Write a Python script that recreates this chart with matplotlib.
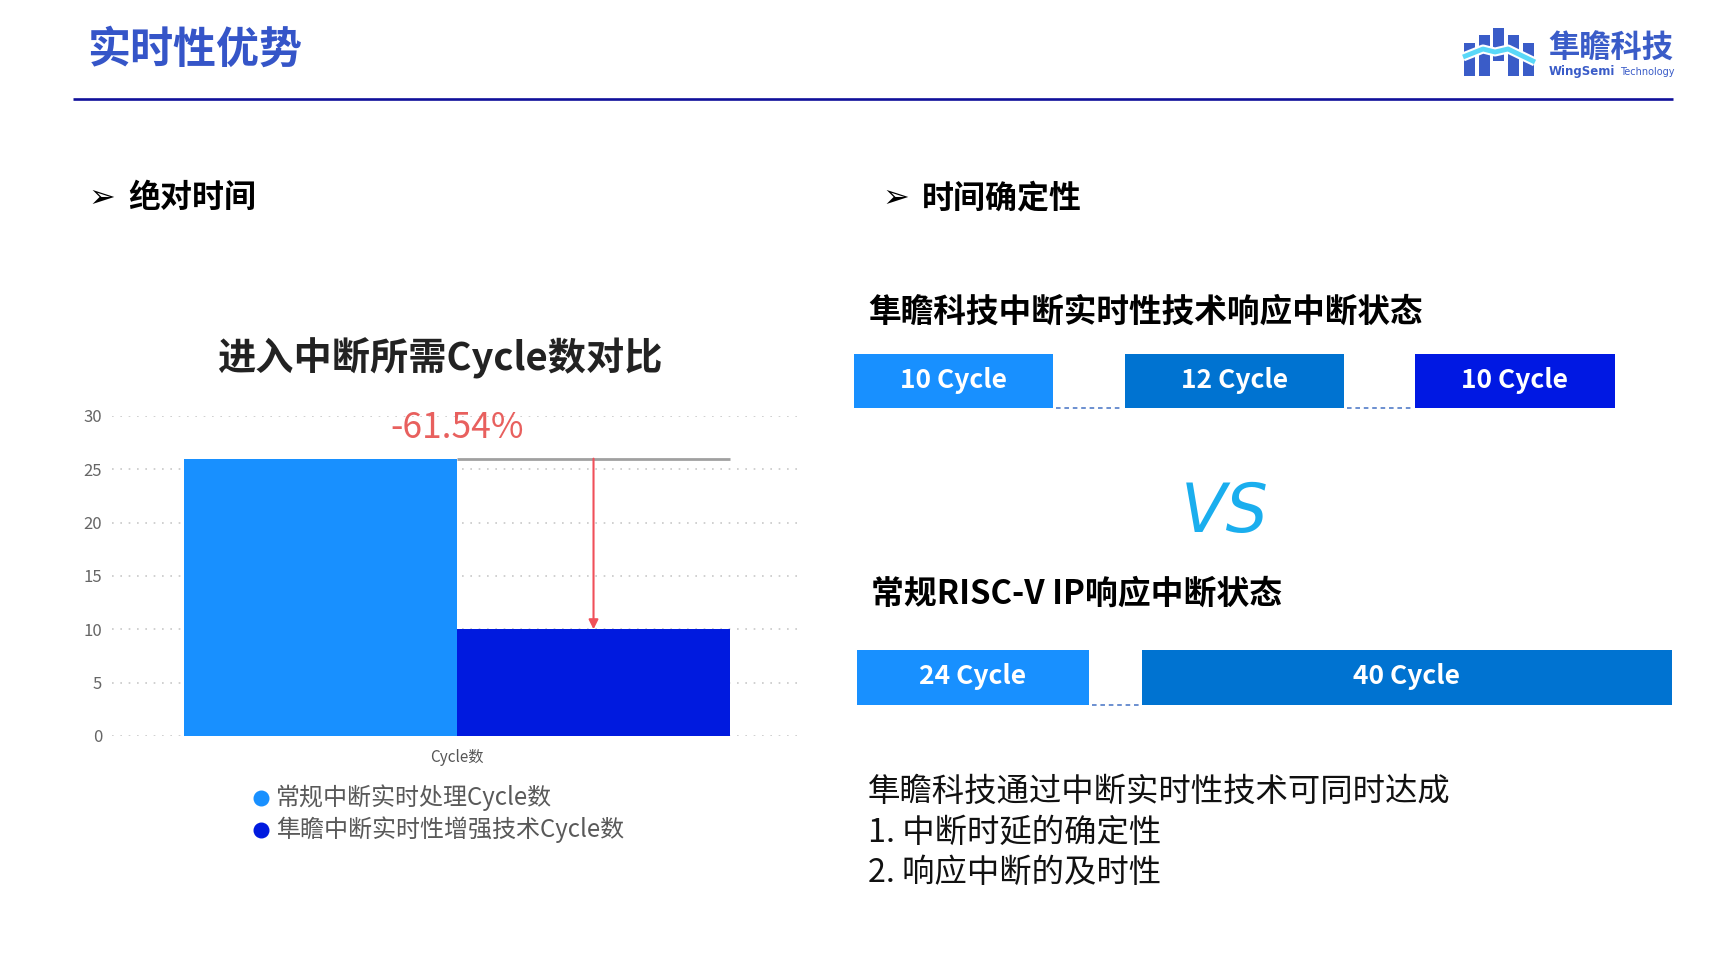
"""
plot.py

Recreates the "实时性优势" slide: a bar chart of interrupt cycles on the left
and cycle-state boxes on the right.
"""

import matplotlib
matplotlib.use("Agg")
import matplotlib.pyplot as plt
from matplotlib.patches import Rectangle

# ---- data ----
series_names = ["常规中断实时处理Cycle数", "隼瞻中断实时性增强技术Cycle数"]
series_values = [26, 10]
category = "Cycle数"
y_ticks = [0, 5, 10, 15, 20, 25, 30]

jz_cycles = [10, 12, 10]
riscv_cycles = [24, 40]

summary_lines = ["隼瞻科技通过中断实时性技术可同时达成",
                 "1. 中断时延的确定性",
                 "2. 响应中断的及时性"]

# ---- styling ----
W, H = 1731, 965
CJK = "Noto Sans CJK SC"
plt.rcParams["font.family"] = [CJK, "DejaVu Sans"]

bar_colors = ["#1890ff", "#001adf"]
jz_colors = ["#1890ff", "#0073d1", "#0018e3"]
riscv_colors = ["#1890ff", "#0073d1"]

# box layout in pixels (left, right) per row
jz_boxes = [(854, 1053), (1125, 1344), (1415, 1615)]
jz_row = (354, 408)
riscv_boxes = [(857, 1089), (1142, 1672)]
riscv_row = (650, 705)

fig = plt.figure(figsize=(W / 100, H / 100), dpi=100)
fig.patch.set_facecolor("white")

# overlay axes in pixel coordinates for the slide decorations
ov = fig.add_axes([0, 0, 1, 1])
ov.set_xlim(0, W)
ov.set_ylim(H, 0)
ov.axis("off")

# header
ov.text(87, 50, "实时性优势", fontsize=31, fontweight="bold", color="#3555c8",
        ha="left", va="center")
ov.plot([73, 1673], [99, 99], color="#10109a", lw=1.9, solid_capstyle="butt")

# logo
logo_blue = "#3a5cc8"
for x0, x1, y0, y1 in [(1464, 1475, 43, 76), (1479, 1490, 35, 76),
                       (1493, 1504, 28, 61), (1508, 1519, 35, 76),
                       (1523, 1534, 43, 76)]:
    ov.add_patch(Rectangle((x0, y0), x1 - x0, y1 - y0, color=logo_blue, lw=0))
wave_x = [1463, 1483, 1495, 1508, 1535]
wave_y = [57, 49, 52, 49, 62]
ov.plot(wave_x, wave_y, color="white", lw=6.5, solid_capstyle="butt")
ov.plot(wave_x, wave_y, color="#5ad8f8", lw=3.5, solid_capstyle="butt")
ov.text(1548, 49, "隼瞻科技", fontsize=22.5, fontweight="bold", color=logo_blue,
        ha="left", va="center")
ov.text(1549, 72, "WingSemi", fontsize=8.5, fontweight="bold", color=logo_blue,
        ha="left", va="center", family="DejaVu Sans")
ov.text(1620, 72, "Technology", fontsize=7, color=logo_blue,
        ha="left", va="center", family="DejaVu Sans")

# section headings
for ax_x, tx_x, label in [(88, 128, "绝对时间"), (882, 922, "时间确定性")]:
    ov.text(ax_x, 199, "➢", fontsize=23, color="black", ha="left", va="center",
            family="DejaVu Sans")
    ov.text(tx_x, 198, label, fontsize=23, fontweight="bold", color="black",
            ha="left", va="center")

# ---- bar chart ----
ov.text(440, 358, "进入中断所需Cycle数对比", fontsize=27.5, fontweight="bold",
        color="#222222", ha="center", va="center")

ax = fig.add_axes([112 / W, 1 - 736 / H, 686 / W, 320 / H])
ax.patch.set_alpha(0)
bar_w = 0.4
offsets = [-bar_w / 2, bar_w / 2]
for off, val, col in zip(offsets, series_values, bar_colors):
    ax.bar(off, val, width=bar_w, color=col, zorder=2)

ax.set_xlim(-0.5055, 0.4996)
ax.set_ylim(y_ticks[0], y_ticks[-1])
ax.set_yticks(y_ticks)
ax.set_xticks([0])
ax.set_xticklabels([category])
ax.tick_params(axis="y", length=0, pad=7, labelsize=12, labelcolor="#666666")
ax.tick_params(axis="x", length=0, pad=9, labelsize=11, labelcolor="#555555")
ax.yaxis.grid(True, linestyle=(0, (1, 4)), color="#c8c8c8", lw=1.2)
ax.set_axisbelow(True)
for sp in ax.spines.values():
    sp.set_visible(False)

# reference line and drop arrow
ax.hlines(series_values[0], offsets[1] - bar_w / 2, offsets[1] + bar_w / 2,
          color="#a0a0a0", lw=2, zorder=3)
ax.annotate("", xy=(offsets[1], series_values[1]),
            xytext=(offsets[1], series_values[0]),
            arrowprops=dict(arrowstyle="-|>", color="#f0505a", lw=1.5,
                            mutation_scale=14, shrinkA=0, shrinkB=0), zorder=4)
pct = (series_values[1] - series_values[0]) / series_values[0] * 100
ax.text(0, 28.9, f"{pct:.2f}%", fontsize=25.5, color="#e8605e",
        ha="center", va="center")

# legend
for i, (name, col) in enumerate(zip(series_names, bar_colors)):
    y = 798 + i * 32
    ov.plot(261, y, marker="o", markersize=10.5, color=col, ls="none")
    ov.text(276, y, name, fontsize=17.3, color="#595959", ha="left", va="center")

# ---- right side: cycle state boxes ----
ov.text(868, 312, "隼瞻科技中断实时性技术响应中断状态", fontsize=23.5,
        fontweight="bold", color="black", ha="left", va="center")
ov.text(871, 594, "常规RISC-V IP响应中断状态", fontsize=23.7,
        fontweight="bold", color="black", ha="left", va="center")


def draw_row(boxes, row, cycles, colors):
    y0, y1 = row
    for (x0, x1), c, col in zip(boxes, cycles, colors):
        ov.add_patch(Rectangle((x0, y0), x1 - x0, y1 - y0, color=col, lw=0))
        ov.text((x0 + x1) / 2, (y0 + y1) / 2 - 1, f"{c} Cycle", fontsize=19,
                fontweight="bold", color="white", ha="center", va="center")
    # dotted connectors between boxes
    for (_, a), (b, _) in zip(boxes[:-1], boxes[1:]):
        ov.plot([a + 3, b - 3], [y1, y1], color="#4472c4", lw=1.1,
                linestyle=(0, (3, 2.5)))


draw_row(jz_boxes, jz_row, jz_cycles, jz_colors)
draw_row(riscv_boxes, riscv_row, riscv_cycles, riscv_colors)

ov.text(1225, 513, "VS", fontsize=48, style="italic", color="#1aaeee",
        ha="center", va="center", family="DejaVu Sans")

# summary text
for i, line in enumerate(summary_lines):
    ov.text(868, 792 + i * 40.5, line, fontsize=23.3, color="#111111",
            ha="left", va="center")

fig.savefig("out.png", dpi=100, facecolor="white")
plt.close(fig)
